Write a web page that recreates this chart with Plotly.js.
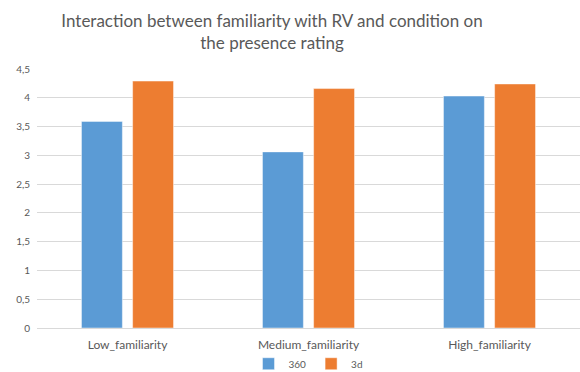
<!DOCTYPE html>
<html>
<head>
<meta charset="utf-8">
<script src="https://cdn.plot.ly/plotly-3.0.1.min.js"></script>
<style>
  html, body { margin: 0; padding: 0; background: #fff; }
  #chart { width: 580px; height: 372px; }
</style>
</head>
<body>
<div id="chart"></div>
<script>
// Familiarity groups on the x axis
const categories = ['Low_familiarity', 'Medium_familiarity', 'High_familiarity'];
// Mean presence rating per condition
const values360 = [3.59, 3.06, 4.03];
const values3d = [4.29, 4.16, 4.24];
const seriesNames = ['360', '3d'];

const font = 'Lato, "Open Sans", sans-serif';
const edge = { color: 'rgba(255,255,255,0.45)', width: 1 };

const traces = [
  { type: 'bar', name: seriesNames[0], x: categories, y: values360,
    marker: { color: '#5B9BD5', line: edge }, hoverinfo: 'y' },
  { type: 'bar', name: seriesNames[1], x: categories, y: values3d,
    marker: { color: '#ED7D31', line: edge }, hoverinfo: 'y' }
];

const layout = {
  width: 580, height: 372,
  margin: { l: 37, r: 0, t: 69, b: 44, autoexpand: false },
  paper_bgcolor: '#fff', plot_bgcolor: '#fff',
  separators: ',.',
  font: { family: font, color: '#595959' },
  title: {
    text: 'Interaction between familiarity with RV and condition on<br>the presence rating',
    font: { family: font, size: 17, color: '#595959' },
    x: 0.469, xanchor: 'center', xref: 'container',
    y: 1 - 27 / 372, yanchor: 'middle', yref: 'container',
    automargin: false
  },
  barmode: 'group',
  bargap: 0.435,
  bargroupgap: 0.2,
  xaxis: {
    type: 'category',
    showgrid: false,
    showline: true, linecolor: '#D9D9D9', linewidth: 1,
    ticks: '', ticklabelstandoff: 6,
    tickfont: { family: font, size: 12, color: '#595959' },
    fixedrange: true, automargin: false
  },
  yaxis: {
    range: [0, 4.5], dtick: 0.5, tick0: 0,
    showgrid: true, gridcolor: '#D9D9D9', gridwidth: 1,
    zeroline: false, showline: false,
    ticks: '', ticklabelstandoff: 6,
    tickfont: { family: font, size: 10, color: '#595959' },
    fixedrange: true, automargin: false
  },
  showlegend: true,
  legend: {
    orientation: 'h', x: 0.5, xanchor: 'center',
    y: -0.082, yanchor: 'top', yref: 'paper',
    bgcolor: 'rgba(0,0,0,0)',
    font: { family: font, size: 10, color: '#595959' },
    itemwidth: 30, tracegroupgap: 0
  }
};

Plotly.newPlot('chart', traces, layout, { displayModeBar: false, staticPlot: true });
</script>
</body>
</html>
